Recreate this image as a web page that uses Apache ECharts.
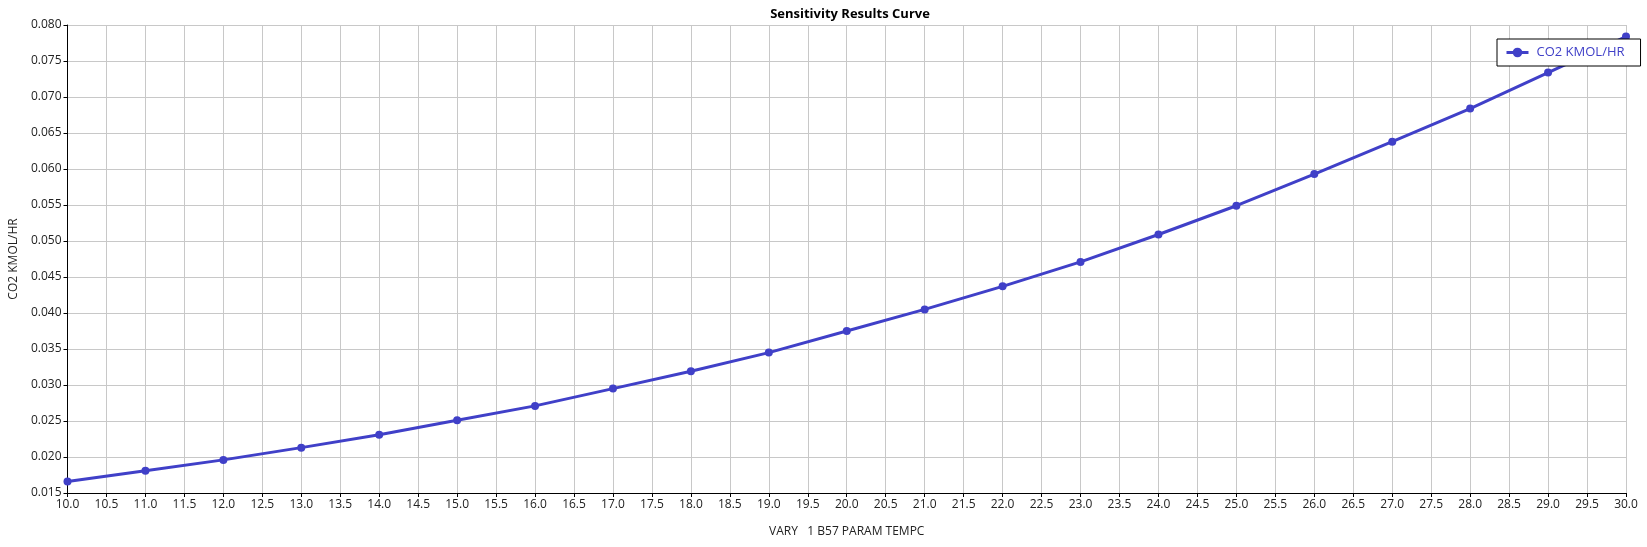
<!DOCTYPE html>
<html lang="en">
<head>
    <meta charset="UTF-8">
    <script src="https://cdn.jsdelivr.net/npm/echarts@6/dist/echarts.min.js"></script>
    <style>
        html, body { margin: 0; padding: 0; background: #fff; }
    </style>
</head>
<body>
    <div id="main" style="width: 1647px; height: 547px;"></div>
    <script>
        // sensitivity run: temperature vs CO2 flow
        var temps = [10, 11, 12, 13, 14, 15, 16, 17, 18, 19, 20, 21, 22, 23, 24, 25, 26, 27, 28, 29, 30];
        var co2 = [0.0166, 0.0181, 0.0196, 0.0213, 0.0231, 0.0251, 0.0271, 0.0295, 0.0319, 0.0345, 0.0375,
                   0.0405, 0.0437, 0.0471, 0.0509, 0.0549, 0.0593, 0.0638, 0.0684, 0.0734, 0.0784];
        var seriesName = 'CO2 KMOL/HR';
        var xTitle = 'VARY   1 B57 PARAM TEMPC';
        var chartTitle = 'Sensitivity Results Curve';

        var font = '"Open Sans", "Noto Sans", sans-serif';
        var lineColor = '#4040c8';

        var chart = echarts.init(document.getElementById('main'));

        chart.setOption({
            animation: false,
            textStyle: { fontFamily: font },
            title: {
                text: chartTitle,
                left: 845,
                textAlign: 'center',
                top: 3,
                textStyle: { fontSize: 13, fontWeight: 'bold', color: '#000', fontFamily: font }
            },
            legend: {
                left: 1497,
                top: 39,
                orient: 'vertical',
                backgroundColor: '#fff',
                borderColor: '#000',
                borderWidth: 1,
                borderRadius: 0,
                padding: [7, 16, 7, 8],
                itemWidth: 22,
                itemHeight: 12,
                itemGap: 4,
                textStyle: { color: lineColor, fontSize: 13, fontFamily: font, padding: [0, 0, 0, 3] },
                data: [{
                    name: seriesName,
                    lineStyle: { width: 3, color: lineColor },
                    itemStyle: { color: lineColor }
                }]
            },
            grid: {
                left: 66,
                right: 21,
                top: 25,
                bottom: 54,
                containLabel: false
            },
            xAxis: {
                type: 'value',
                min: 10,
                max: 30,
                interval: 0.5,
                name: xTitle,
                nameLocation: 'middle',
                nameGap: 33,
                nameTextStyle: { color: '#222', fontSize: 12 },
                axisLine: { lineStyle: { color: '#000', width: 1 } },
                axisTick: { show: true, length: 4, lineStyle: { color: '#000' } },
                axisLabel: {
                    color: '#222',
                    fontSize: 12,
                    margin: 6,
                    formatter: function (v) { return v.toFixed(1); }
                },
                splitLine: { show: true, lineStyle: { color: '#c8c8c8', width: 1 } }
            },
            yAxis: {
                type: 'value',
                min: 0.015,
                max: 0.08,
                interval: 0.005,
                name: seriesName,
                nameLocation: 'middle',
                nameGap: 41,
                nameTextStyle: { color: '#222', fontSize: 12 },
                axisLine: { show: true, lineStyle: { color: '#000', width: 1 } },
                axisTick: { show: true, length: 4, lineStyle: { color: '#000' } },
                axisLabel: {
                    color: '#222',
                    fontSize: 12,
                    margin: 6,
                    formatter: function (v) { return v.toFixed(3); }
                },
                splitLine: { show: true, lineStyle: { color: '#c8c8c8', width: 1 } }
            },
            series: [{
                name: seriesName,
                type: 'line',
                data: temps.map(function (t, i) { return [t, co2[i]]; }),
                symbol: 'circle',
                symbolSize: 8,
                showAllSymbol: true,
                clip: false,
                lineStyle: { color: lineColor, width: 3 },
                itemStyle: { color: lineColor }
            }]
        });
    </script>
</body>
</html>
